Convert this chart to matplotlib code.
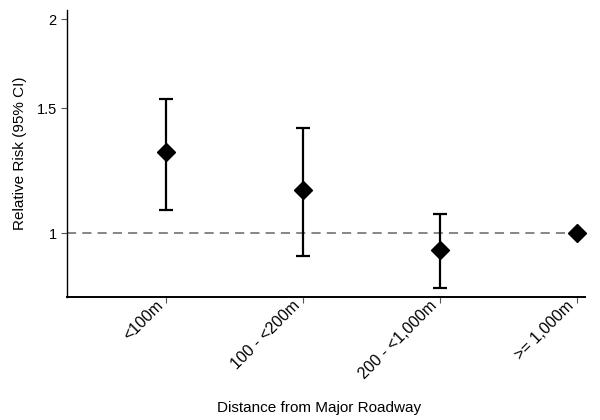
import matplotlib.pyplot as plt
import numpy as np

plt.rcParams['font.family'] = ['Liberation Sans', 'DejaVu Sans']

categorias = ['<100m', '100 - <200m', '200 - <1,000m', '>= 1,000m']
rr = [1.30, 1.15, 0.947, 1.0]
ci_baixo = [1.077, 0.929, 0.838, np.nan]
ci_alto = [1.547, 1.405, 1.066, np.nan]
y_ticks = [1, 1.5, 2]
y_labels = ['1', '1.5', '2']

fig = plt.figure(figsize=(6, 4.2), dpi=100)
ax = fig.add_axes([0.112, 0.293, 0.863, 0.683])

x = np.arange(len(categorias))
ax.axhline(1, color='#666666', linestyle=(0, (6, 4)), linewidth=1.1, zorder=1)

for i in range(len(categorias)):
    if not np.isnan(ci_baixo[i]):
        ax.errorbar(x[i], rr[i], yerr=[[rr[i] - ci_baixo[i]], [ci_alto[i] - rr[i]]],
                    fmt='none', ecolor='black', elinewidth=1.6, capsize=5, capthick=1.6, zorder=2)
ax.plot(x, rr, 'D', color='black', markersize=9, zorder=3, clip_on=False)

ax.set_yscale('log')
ax.set_ylim(0.814, 2.06)
ax.set_yticks(y_ticks)
ax.set_yticklabels(y_labels)
ax.minorticks_off()
ax.set_xlim(-0.72, 3.06)
ax.set_xticks(x)
ax.set_xticklabels([''] * len(categorias))

# rótulos do eixo x desenhados à mão para ajustar a posição
for xi, cat in zip(x, categorias):
    ax.annotate(cat, xy=(xi, 0), xycoords=('data', 'axes fraction'),
                xytext=(-7.5, -0.8), textcoords='offset points',
                rotation=45, ha='right', va='top', rotation_mode='anchor',
                fontsize=11.5, annotation_clip=False)

ax.spines['top'].set_visible(False)
ax.spines['right'].set_visible(False)
ax.spines['left'].set_linewidth(1.0)
ax.spines['bottom'].set_linewidth(1.4)
ax.tick_params(axis='both', length=4, width=0.8, color='#555555')
ax.tick_params(axis='y', labelsize=10.5)

ax.set_ylabel('Relative Risk (95% CI)', fontsize=11, va='center')
ax.yaxis.set_label_coords(-0.091, 0.5)
ax.set_xlabel('Distance from Major Roadway', fontsize=11, va='center')
ax.xaxis.set_label_coords(0.487, -0.387)

fig.savefig('out.png', dpi=100)
